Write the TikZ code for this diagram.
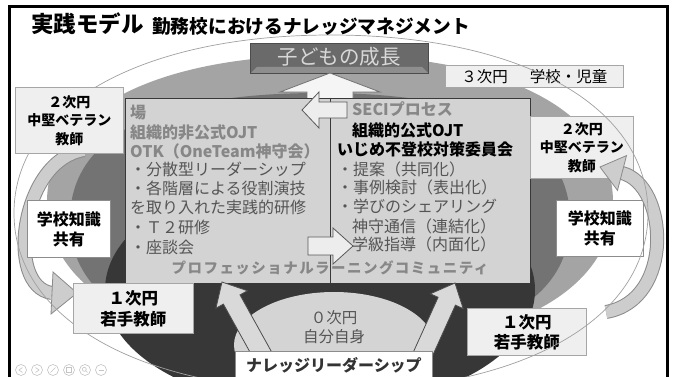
\documentclass[tikz,border=0pt]{standalone}
\usepackage{fontspec}
\setmainfont{Noto Sans CJK JP}
\usetikzlibrary{calc}
\definecolor{cMid}{HTML}{A4A4A4}
\definecolor{cDark}{HTML}{737373}
\definecolor{cBlack}{HTML}{373737}
\definecolor{cZero}{HTML}{D4D4D4}
\definecolor{cBox}{HTML}{D3D3D3}
\definecolor{cPale}{HTML}{EFEFEF}
\definecolor{cKid}{HTML}{6A6A6A}
\definecolor{cKidBev}{HTML}{8E8E8E}
\definecolor{cKidTxt}{HTML}{D8D8D8}
\definecolor{cHead}{HTML}{878787}
\definecolor{cBul}{HTML}{555555}
\definecolor{cLine}{HTML}{A0A0A0}
\definecolor{cBand}{HTML}{CDCDCD}
\definecolor{cBandEdge}{HTML}{8A8A8A}
\definecolor{cArr}{HTML}{D9D9D9}
\definecolor{cIcon}{HTML}{C4C4C4}
\newcommand\sqell[6]{%
  \pgfmathsetmacro\sqa{#6*(#4)}%
  \pgfmathsetmacro\sqb{#6*(#5)}%
  \path[#1] (#2+#4,#3) .. controls (#2+#4,#3-\sqb) and (#2+\sqa,#3-#5) .. (#2,#3-#5)
    .. controls (#2-\sqa,#3-#5) and (#2-#4,#3-\sqb) .. (#2-#4,#3)
    .. controls (#2-#4,#3+\sqb) and (#2-\sqa,#3+#5) .. (#2,#3+#5)
    .. controls (#2+\sqa,#3+#5) and (#2+#4,#3+\sqb) .. (#2+#4,#3) -- cycle;}
\newcommand\barrow[6]{%
  \coordinate (bah) at ($(#3)!#6pt!(#2)$);
  \path[#1] ($(#2)!#4pt!90:(#3)$) -- ($(bah)!#4pt!90:(#3)$) -- ($(bah)!#5pt!90:(#3)$) -- (#3)
    -- ($(bah)!#5pt!-90:(#3)$) -- ($(bah)!#4pt!-90:(#3)$) -- ($(#2)!#4pt!-90:(#3)$) -- cycle;}
\begin{document}
\begin{tikzpicture}[x=1pt,y=-1pt,
  box/.style={anchor=north west, inner sep=0pt, line width=0.8pt},
  mainbox/.style={box, draw=black!78, fill=cBox},
  palebox/.style={box, draw=black!35, fill=cPale, align=center, text=black},
  whitebox/.style={box, draw=black!45, fill=white, align=center, text=black},
  ln/.style={anchor=west, inner sep=0pt, text height=13.5pt, text depth=2.5pt, font=\fontsize{16}{19}\selectfont},
  lhead/.style={ln, text=cHead, font=\bfseries\fontsize{16}{19}\selectfont},
  lbul/.style={ln, text=cBul},
  lblk/.style={ln, text=black, font=\bfseries\fontsize{16}{19}\selectfont},
  blockarr/.style={fill=cArr, draw=black!70, line width=0.8pt, line join=miter},
  innerarr/.style={fill=black!7, draw=black!65, line width=0.8pt, line join=miter},
  bandhead/.style={fill=cBand, draw=cBandEdge, line width=0.8pt, line join=miter},
  icon/.style={draw=cIcon, line width=0.6pt}
]
\useasboundingbox (0,0) rectangle (673,377);
\clip (0,0) rectangle (673,377);
\fill[white] (0,0) rectangle (673,377);

% nested circles
\sqell{fill=cMid}{330}{202}{283}{147}{0.62}
\sqell{fill=cDark}{320}{220}{250}{127}{0.66}
\sqell{fill=cBlack}{320}{290}{215}{118}{0.56}
\fill[cZero] (334,345) ellipse [x radius=100, y radius=53];

% left curved arrow (under boxes)
\draw[line width=14pt, cBandEdge] (84,150) .. controls (20,160) and (5,287) .. (52,293);
\draw[line width=12pt, cBand] (84,150) .. controls (20,160) and (5,287) .. (52,293);
\path[bandhead] (53,272) -- (77,293) -- (51,314) -- cycle;

% child growth box
\node[box, draw=black!70, fill=cKid, minimum width=178, minimum height=30] (kids) at (250,43) {};
\fill[cKidBev] (kids.south west) -- (kids.south east) -- ($(kids.south east)+(-7,-7)$) -- ($(kids.south west)+(7,-7)$) -- cycle;
\draw[black!70, line width=0.8pt] (kids.south west) rectangle (kids.north east);
\node[inner sep=0pt, text=cKidTxt, font=\fontsize{20.5}{24}\selectfont] (kidstxt) at ($(kids.center)+(0,-2)$) {子どもの成長};

% 3rd circle label
\node[palebox, minimum width=178, minimum height=22, font=\fontsize{15.5}{18}\selectfont] (dim3) at (445,65) {３次円\hspace{22pt}学校・児童};

% central up arrow
\coordinate (upT) at (330,112);
\coordinate (upH) at (330,73);
\barrow{fill=white!96!black, draw=black!55, line width=0.8pt, line join=miter}{upT}{upH}{23}{50}{19}

% main boxes
\node[mainbox, minimum width=205, minimum height=185] (lbox) at (125,98) {};
\node[mainbox, minimum width=200, minimum height=185] (rbox) at (330,98) {};

% left box text
\node[lhead] (l0) at (130,113) {場};
\node[lhead] (l1) at (130,133) {組織的非公式OJT};
\node[lhead] (l2) at (130,152) {OTK（OneTeam神守会）};
\node[lbul] (l3) at (130,170) {・分散型リーダーシップ};
\node[lbul] (l4) at (130,189) {・各階層による役割演技};
\node[lbul] (l5) at (130,208) {を取り入れた実践的研修};
\node[lbul] (l6) at (130,228) {・Ｔ２研修};
\node[lbul] (l7) at (130,248) {・座談会};

% right box text
\node[lhead] (r0) at (352,110) {SECIプロセス};
\node[lblk] (r1) at (352,131) {組織的公式OJT};
\node[lblk] (r2) at (337,150) {いじめ不登校対策委員会};
\node[lbul] (r3) at (337,170) {・提案（共同化）};
\node[lbul] (r4) at (337,188) {・事例検討（表出化）};
\node[lbul] (r5) at (337,207) {・学びのシェアリング};
\node[lbul] (r6) at (352,227) {神守通信（連結化）};
\node[lbul] (r7) at (352,245) {学級指導（内面化）};

\node[inner sep=0pt, text=cHead, font=\bfseries\fontsize{14.5}{17}\selectfont\addfontfeature{LetterSpace=10}] (plc) at (330,268) {プロフェッショナルラーニングコミュニティ};
\draw[black!78, line width=0.8pt] (rbox.north west) -- (rbox.south west);

% arrows between the main boxes
\coordinate (laT) at (347,110);
\coordinate (laH) at (302,110);
\barrow{innerarr}{laT}{laH}{8}{18}{17}
\coordinate (raT) at (308,246);
\coordinate (raH) at (353,246);
\barrow{innerarr}{raT}{raH}{9}{18}{20}

% zero circle text
\node[align=center, inner sep=0pt, text=cBul, font=\fontsize{15.5}{19}\selectfont] (zero) at (334,327) {０次円\\自分自身};

% bottom up arrows
\coordinate (baLT) at (263,356);
\coordinate (baLH) at (222,282);
\barrow{blockarr}{baLT}{baLH}{9.5}{18}{20}
\coordinate (baRT) at (422,356);
\coordinate (baRH) at (455,283);
\barrow{blockarr}{baRT}{baRH}{9.5}{18}{20}

% knowledge leadership box
\node[whitebox, minimum width=197, minimum height=28, text=black!80, font=\bfseries\fontsize{16}{19}\selectfont] (kl) at (235,351) {ナレッジリーダーシップ};

% right side boxes
\node[palebox, minimum width=103, minimum height=62, font=\bfseries\fontsize{14}{18.5}\selectfont] (r2nd) at (530,116) {２次円\\中堅ベテラン\\教師};
\node[whitebox, minimum width=87, minimum height=56, font=\bfseries\fontsize{16}{20}\selectfont] (rshare) at (556,200) {学校知識\\共有};
\node[palebox, minimum width=119, minimum height=47, font=\bfseries\fontsize{16.5}{20}\selectfont] (r1st) at (467,308) {１次円\\若手教師};

% right curved arrow
\draw[line width=14pt, cBandEdge] (606,312) .. controls (675,300) and (668,185) .. (622,173);
\draw[line width=12pt, cBand] (606,312) .. controls (675,300) and (668,185) .. (622,173);
\path[bandhead] (626.5,155.6) -- (600,167) -- (617.5,190.4) -- cycle;

% outer (3rd) circle line
\sqell{draw=cLine, line width=0.7pt}{331}{213}{317}{178}{0.6}

% left side boxes
\node[palebox, minimum width=108, minimum height=66, font=\bfseries\fontsize{14}{18.5}\selectfont] (l2nd) at (15,87) {２次円\\中堅ベテラン\\教師};
\node[whitebox, minimum width=83, minimum height=57, font=\bfseries\fontsize{16}{20}\selectfont] (lshare) at (27,200) {学校知識\\共有};
\node[palebox, minimum width=120, minimum height=50, font=\bfseries\fontsize{16.5}{21}\selectfont] (l1st) at (73,283) {１次円\\若手教師};

% title
\node[anchor=west, inner sep=0pt, font=\bfseries\fontsize{22.5}{25}\selectfont] (title1) at (31,24) {実践モデル};
\node[anchor=west, inner sep=0pt, font=\bfseries\fontsize{18.7}{22}\selectfont] (title2) at (152,26) {勤務校におけるナレッジマネジメント};

% slide show controls
\draw[icon] (21,370) circle (5.5); \draw[icon] (22.5,367.5) -- (19,370) -- (22.5,372.5);
\draw[icon] (37,370) circle (5.5); \draw[icon] (35.5,367.5) -- (39,370) -- (35.5,372.5);
\draw[icon] (53,370) circle (5.5); \draw[icon] (50.5,372.5) -- (55.5,367.5);
\draw[icon] (69,370) circle (5.5); \draw[icon] (66.5,367.5) rectangle (71.5,372.5);
\draw[icon] (85,370) circle (5.5); \draw[icon] (84.3,369.3) circle (2); \draw[icon] (85.8,370.8) -- (87.5,372.5);
\draw[icon] (101,370) circle (5.5); \draw[icon] (98.5,370) -- (103.5,370);

% frame
\draw[black, line width=3pt] (9,7) rectangle (667,420);
\end{tikzpicture}
\end{document}
